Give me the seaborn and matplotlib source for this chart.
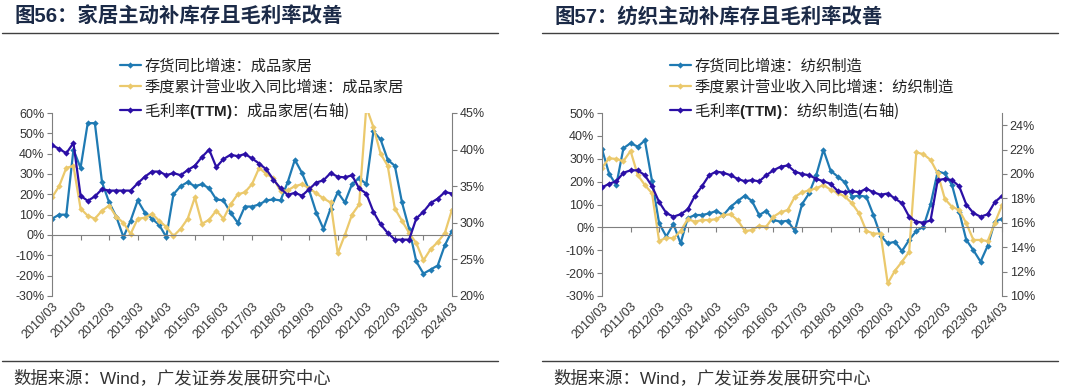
import pandas as pd
import seaborn as sns
import matplotlib.pyplot as plt
from matplotlib.lines import Line2D
from matplotlib.ticker import PercentFormatter, MultipleLocator

# quarterly labels 2010/03 .. 2024/03
quarters = [f"{y}/{m:02d}" for y in range(2010, 2025) for m in (3, 6, 9, 12)][:57]

# 家居 (left chart)
home_inv = [8, 10, 10, 42, 33, 55, 55, 26, 16, 9, -1, 7, 17, 11, 8, 5, -1, 20, 24, 26,
            24, 25, 23, 17.5, 17, 11, 6, 14, 14, 15, 17, 17.5, 17, 26, 37, 30.5, 22, 11, 3, 13,
            21, 16, 25, 28, 25, 51, 47, 37, 34, 16, 3, -13, -19, -17, -15, -5, 2]
home_rev = [18.5, 24, 33, 34, 13, 9.5, 8, 12, 14.5, 9, 6, 0.5, 8, 8.5, 10.5, 7, 4, -0.5, 3, 8,
            18.5, 5.5, 7.5, 12, 8, 15, 20, 21, 25, 33, 30, 28, 21.5, 22, 24, 25, 23, 20.5, 18, 16,
            -9, 0, 10, 15, 63, 53, 40, 34, 13, 7, 1, -4, -12.5, -7, -3.5, 1, 12.5]
home_gm = [40.6, 40.1, 39.5, 40.9, 33.7, 33.0, 33.6, 34.6, 34.4, 34.4, 34.4, 34.4, 35.4, 36.3,
           37.0, 37.0, 36.5, 36.8, 36.5, 37.2, 37.8, 39.0, 40.0, 37.6, 38.7, 39.3, 39.1, 39.4,
           38.8, 38.1, 37.3, 35.9, 34.7, 33.8, 34.1, 33.7, 34.6, 35.5, 35.8, 36.8, 36.3, 36.2,
           36.5, 34.7, 34.0, 31.5, 29.8, 28.6, 27.7, 27.7, 27.7, 30.6, 31.5, 32.7, 33.3, 34.2, 34.0]

# 纺织 (right chart)
tex_inv = [34.2, 23.4, 18.5, 34.6, 36.8, 35.3, 38, 20.3, 1.8, -4, 1.5, -7, 4, 5.4, 5.4, 6.1,
           7.2, 5.4, 9, 11.5, 13.9, 11.5, 5.4, 7.2, 3.2, 2.5, 2.9, -1.6, 10.1, 14.9, 22.9, 33.9,
           24.8, 22.2, 19.7, 13.4, 13.9, 13.4, 5.4, -3.6, -7, -6.3, -10.4, -5.5, -1.6, 0.3, 10.1,
           24.4, 23.6, 18.5, 6.9, -5.5, -10, -15, -8, 2.5, 3.8]
tex_rev = [26.1, 30.2, 29.9, 29, 33.4, 22.9, 18.5, 14.9, -6, -4.5, -4.8, -1.6, 3.6, 2.5, 3.2,
           3.2, 3.6, 5.4, 5.7, 3.2, -1.6, -1.2, 0.7, 0.3, 4.7, 6.6, 7.6, 13.4, 15.3, 16.2, 17.1,
           18.5, 16.5, 15, 13.5, 10.5, 6.1, -1.5, -2.7, -2.7, -24.5, -19, -15, -10.7, 32.8, 32,
           29.5, 23.6, 12.4, 9, 7.6, 1.8, -5.5, -5.5, -6, 2, 9.7]
tex_gm = [18.9, 19.2, 19.4, 20.1, 20.3, 20.3, 19.9, 19.0, 17.7, 16.8, 16.5, 16.7, 17.1, 18.2,
          19.0, 19.9, 20.2, 20.1, 19.9, 19.6, 19.4, 19.5, 19.4, 19.9, 20.3, 20.6, 20.7, 20.2,
          20.0, 19.9, 19.6, 19.4, 19.2, 18.6, 18.5, 18.6, 18.5, 18.8, 18.5, 18.3, 18.4, 18.0,
          17.6, 16.5, 16.1, 16.0, 16.2, 19.5, 19.6, 19.5, 19.0, 17.5, 16.8, 16.5, 16.7, 17.7, 18.2]

sns.set_style("white")
plt.rcParams['font.family'] = ['Liberation Sans', 'Noto Sans CJK SC']
plt.rcParams['mathtext.fontset'] = 'custom'
plt.rcParams['mathtext.bf'] = 'Liberation Sans:bold'
plt.rcParams['axes.unicode_minus'] = False

C_INV = '#1f7ab3'
C_REV = '#ebc96c'
C_GM = '#2b0fa6'
AX_C = '#7f7f7f'
TXT = '#333333'

W, H = 1080, 392
fig = plt.figure(figsize=(10.8, 3.92), dpi=100)


def fx(px):
    return px / W


def fy(py):
    return 1 - py / H


def panel(x0, ax_x0, title, name, inv, rev, gm, lylim, lystep, rylim, rticks, line_end):
    df = pd.DataFrame({'q': range(len(quarters)), 'inv': inv, 'rev': rev, 'gm': gm})
    ax = fig.add_axes([fx(ax_x0), fy(296), fx(400), 183 / H])
    ax2 = ax.twinx()
    kw = dict(lw=1.6, marker='D', markersize=3.2, markeredgewidth=0)
    sns.lineplot(data=df, x='q', y='inv', ax=ax, color=C_INV, **kw)
    sns.lineplot(data=df, x='q', y='rev', ax=ax, color=C_REV, **kw)
    sns.lineplot(data=df, x='q', y='gm', ax=ax2, color=C_GM, **kw)

    ax.set_xlim(0, len(quarters) - 1)
    ax.set_ylim(*lylim)
    ax.yaxis.set_major_locator(MultipleLocator(lystep))
    ax.yaxis.set_major_formatter(PercentFormatter(decimals=0))
    ax2.set_ylim(*rylim)
    ax2.set_yticks(rticks)
    ax2.yaxis.set_major_formatter(PercentFormatter(decimals=0))
    for a in (ax, ax2):
        a.set_xlabel('')
        a.set_ylabel('')
        a.grid(False)
        for s in a.spines.values():
            s.set_visible(False)
    ax.spines['left'].set_visible(True)
    ax.spines['left'].set_color(AX_C)
    ax2.spines['right'].set_visible(True)
    ax2.spines['right'].set_color(AX_C)
    ax.spines['bottom'].set_visible(True)
    ax.spines['bottom'].set_color(AX_C)
    ax.spines['bottom'].set_position(('data', 0))

    ticks = list(range(0, len(quarters), 4))
    ax.set_xticks(ticks)
    ax.tick_params(axis='x', direction='out', length=3.5, color=AX_C, labelbottom=False, bottom=True)
    ax.tick_params(axis='y', direction='out', length=3.5, color=AX_C, left=True,
                   labelsize=9, labelcolor=TXT, pad=2)
    ax2.tick_params(axis='y', direction='out', length=3.5, color=AX_C, right=True,
                    labelsize=9, labelcolor=TXT, pad=2)

    sec = ax.secondary_xaxis('bottom')
    sec.set_xticks(ticks, labels=[quarters[i] for i in ticks])
    sec.spines['bottom'].set_visible(False)
    sec.tick_params(length=0, pad=3, labelsize=9, labelcolor=TXT)
    for lbl in sec.get_xticklabels():
        lbl.set_rotation(45)
        lbl.set_ha('right')
        lbl.set_rotation_mode('anchor')

    handles = [ax.lines[0], ax.lines[1], ax2.lines[0]]
    labels = [f'存货同比增速：{name}', f'季度累计营业收入同比增速：{name}',
              '毛利率$\\mathbf{(TTM)}$：' + f'{name}(右轴)']
    fig.legend(handles, labels, loc='upper left', bbox_to_anchor=(fx(ax_x0 + 68), fy(57)),
               frameon=False, borderpad=0, borderaxespad=0, handlelength=1.35,
               handletextpad=0.25, labelspacing=0.3,
               prop={'family': 'Noto Sans CJK SC', 'size': 11}, labelcolor='#222222')

    fig.text(fx(x0 + 14), fy(17), title, fontsize=14.7, fontweight='bold', color='#1b2a47',
             va='center', ha='left')
    fig.text(fx(x0 + 13), fy(378), '数据来源：Wind，广发证券发展研究中心', fontsize=12.5,
             color=TXT, va='center', ha='left')
    for yy in (33, 361):
        fig.add_artist(Line2D([fx(x0 + 2), fx(line_end)], [fy(yy), fy(yy)],
                              transform=fig.transFigure, color='#404040', lw=1.0))


panel(0, 52, '图56：家居主动补库存且毛利率改善', '成品家居', home_inv, home_rev, home_gm,
      (-30, 60), 10, (20, 45), [20, 25, 30, 35, 40, 45], 498)
panel(540, 602, '图57：纺织主动补库存且毛利率改善', '纺织制造', tex_inv, tex_rev, tex_gm,
      (-30, 50), 10, (10, 25), [10, 12, 14, 16, 18, 20, 22, 24], 1058)

fig.savefig('out.png', dpi=100)
